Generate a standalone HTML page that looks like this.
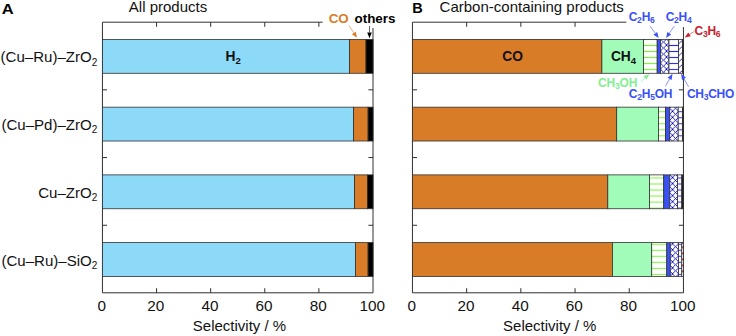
<!DOCTYPE html>
<html><head><meta charset="utf-8"><title>Selectivity</title>
<style>
html,body{margin:0;padding:0;background:#fff;}
body{width:736px;height:336px;overflow:hidden;font-family:"Liberation Sans",sans-serif;}
svg{display:block;font-family:"Liberation Sans",sans-serif;}
.t{font-size:15px;fill:#111;}
.b{font-size:12px;font-weight:bold;}
</style></head><body>
<svg width="736" height="336" viewBox="0 0 736 336">
<defs>
<pattern id="hg" patternUnits="userSpaceOnUse" x="0" y="42.489" width="6.022" height="6.022"><rect width="7" height="7" fill="#fff"/><rect y="2.511" width="7" height="1" fill="#74f62c"/></pattern>
<pattern id="hb" patternUnits="userSpaceOnUse" x="0" y="42.489" width="6.022" height="6.022"><rect width="7" height="7" fill="#fff"/><rect y="2.511" width="7" height="1" fill="#2424e4"/></pattern>
<pattern id="xb" patternUnits="userSpaceOnUse" x="660.5" y="39" width="6.022" height="6.022"><rect width="7" height="7" fill="#fff"/><path d="M-1,-1 L7.022,7.022 M-1,7.022 L7.022,-1" stroke="#0000c4" stroke-width="0.85" fill="none"/></pattern>
<pattern id="db" patternUnits="userSpaceOnUse" x="677.6" y="39" width="6.022" height="6.022"><rect width="7" height="7" fill="#fff"/><path d="M-1,7.022 L7.022,-1 M-1,1 L1,-1 M5.022,7.022 L7.022,5.022" stroke="#0000c4" stroke-width="0.85" fill="none"/></pattern>
<pattern id="rd" patternUnits="userSpaceOnUse" x="0" y="39.478" width="6.022" height="6.022"><rect width="7" height="7" fill="#fff"/><rect y="2.211" width="7" height="1.6" fill="#c8202c"/></pattern>
</defs>

<path d="M102.45,22.2 V292.8 H373.0" fill="none" stroke="#303030" stroke-width="1"/>
<path d="M102.45,22.2 H322.7" fill="none" stroke="#303030" stroke-width="1"/>
<path d="M373.0,28 V292.8" fill="none" stroke="#303030" stroke-width="1"/>
<path d="M156.56,292.8 v-4.6" stroke="#303030" stroke-width="1"/>
<path d="M156.56,22.2 v4.6" stroke="#303030" stroke-width="1"/>
<path d="M210.67,292.8 v-4.6" stroke="#303030" stroke-width="1"/>
<path d="M210.67,22.2 v4.6" stroke="#303030" stroke-width="1"/>
<path d="M264.78,292.8 v-4.6" stroke="#303030" stroke-width="1"/>
<path d="M264.78,22.2 v4.6" stroke="#303030" stroke-width="1"/>
<path d="M318.89,292.8 v-4.6" stroke="#303030" stroke-width="1"/>
<path d="M318.89,22.2 v4.6" stroke="#303030" stroke-width="1"/>
<path d="M102.45,89.82 h4.6 M373.0,89.82 h-4.6" stroke="#303030" stroke-width="1"/>
<path d="M102.45,157.55 h4.6 M373.0,157.55 h-4.6" stroke="#303030" stroke-width="1"/>
<path d="M102.45,225.27 h4.6 M373.0,225.27 h-4.6" stroke="#303030" stroke-width="1"/>
<text class="t" x="101.75" y="311.4" text-anchor="middle" style="font-size:15.3px">0</text>
<text class="t" x="155.86" y="311.4" text-anchor="middle" style="font-size:15.3px">20</text>
<text class="t" x="209.97" y="311.4" text-anchor="middle" style="font-size:15.3px">40</text>
<text class="t" x="264.08" y="311.4" text-anchor="middle" style="font-size:15.3px">60</text>
<text class="t" x="318.19" y="311.4" text-anchor="middle" style="font-size:15.3px">80</text>
<text class="t" x="372.30" y="311.4" text-anchor="middle" style="font-size:15.3px">100</text>
<text class="t" x="239.53" y="331.3" text-anchor="middle">Selectivity / %</text>
<path d="M412.45,22.2 V292.8 H683.45" fill="none" stroke="#303030" stroke-width="1"/>
<path d="M412.45,22.2 H626.3" fill="none" stroke="#303030" stroke-width="1"/>
<path d="M683.45,27 V292.8" fill="none" stroke="#303030" stroke-width="1"/>
<path d="M466.65,292.8 v-4.6" stroke="#303030" stroke-width="1"/>
<path d="M466.65,22.2 v4.6" stroke="#303030" stroke-width="1"/>
<path d="M520.85,292.8 v-4.6" stroke="#303030" stroke-width="1"/>
<path d="M520.85,22.2 v4.6" stroke="#303030" stroke-width="1"/>
<path d="M575.05,292.8 v-4.6" stroke="#303030" stroke-width="1"/>
<path d="M575.05,22.2 v4.6" stroke="#303030" stroke-width="1"/>
<path d="M629.25,292.8 v-4.6" stroke="#303030" stroke-width="1"/>
<path d="M412.45,89.82 h4.6 M683.45,89.82 h-4.6" stroke="#303030" stroke-width="1"/>
<path d="M412.45,157.55 h4.6 M683.45,157.55 h-4.6" stroke="#303030" stroke-width="1"/>
<path d="M412.45,225.27 h4.6 M683.45,225.27 h-4.6" stroke="#303030" stroke-width="1"/>
<text class="t" x="411.75" y="311.4" text-anchor="middle" style="font-size:15.3px">0</text>
<text class="t" x="465.95" y="311.4" text-anchor="middle" style="font-size:15.3px">20</text>
<text class="t" x="520.15" y="311.4" text-anchor="middle" style="font-size:15.3px">40</text>
<text class="t" x="574.35" y="311.4" text-anchor="middle" style="font-size:15.3px">60</text>
<text class="t" x="628.55" y="311.4" text-anchor="middle" style="font-size:15.3px">80</text>
<text class="t" x="682.75" y="311.4" text-anchor="middle" style="font-size:15.3px">100</text>
<text class="t" x="549.75" y="331.3" text-anchor="middle">Selectivity / %</text>
<rect x="102.45" y="39.43" width="247.05" height="33.86" fill="#8dd9f8" stroke="#303030" stroke-width="0.8"/>
<rect x="349.50" y="39.43" width="16.50" height="33.86" fill="#d87c28" stroke="#303030" stroke-width="0.8"/>
<rect x="366.00" y="39.43" width="7.00" height="33.86" fill="#000" stroke="#303030" stroke-width="0.8"/>
<rect x="102.45" y="107.16" width="251.15" height="33.86" fill="#8dd9f8" stroke="#303030" stroke-width="0.8"/>
<rect x="353.60" y="107.16" width="14.50" height="33.86" fill="#d87c28" stroke="#303030" stroke-width="0.8"/>
<rect x="368.10" y="107.16" width="4.90" height="33.86" fill="#000" stroke="#303030" stroke-width="0.8"/>
<rect x="102.45" y="174.88" width="252.15" height="33.86" fill="#8dd9f8" stroke="#303030" stroke-width="0.8"/>
<rect x="354.60" y="174.88" width="12.80" height="33.86" fill="#d87c28" stroke="#303030" stroke-width="0.8"/>
<rect x="367.40" y="174.88" width="5.60" height="33.86" fill="#000" stroke="#303030" stroke-width="0.8"/>
<rect x="102.45" y="242.61" width="252.95" height="33.86" fill="#8dd9f8" stroke="#303030" stroke-width="0.8"/>
<rect x="355.40" y="242.61" width="12.70" height="33.86" fill="#d87c28" stroke="#303030" stroke-width="0.8"/>
<rect x="368.10" y="242.61" width="4.90" height="33.86" fill="#000" stroke="#303030" stroke-width="0.8"/>
<rect x="412.45" y="39.43" width="189.45" height="33.86" fill="#d87c28" stroke="#303030" stroke-width="0.8"/>
<rect x="601.90" y="39.43" width="41.60" height="33.86" fill="#a0fcb8" stroke="#303030" stroke-width="0.8"/>
<rect x="643.50" y="39.43" width="13.70" height="33.86" fill="url(#hg)" stroke="#303030" stroke-width="0.8"/>
<rect x="657.20" y="39.43" width="3.40" height="33.86" fill="#3a50f8" stroke="#303030" stroke-width="0.8"/>
<rect x="660.60" y="39.43" width="8.40" height="33.86" fill="url(#xb)" stroke="#303030" stroke-width="0.8"/>
<rect x="669.00" y="39.43" width="9.50" height="33.86" fill="url(#hb)" stroke="#303030" stroke-width="0.8"/>
<rect x="678.50" y="39.43" width="4.10" height="33.86" fill="url(#db)" stroke="#303030" stroke-width="0.8"/>
<rect x="682.60" y="39.43" width="0.85" height="33.86" fill="#222" stroke="#303030" stroke-width="0.8"/>
<rect x="412.45" y="107.16" width="204.25" height="33.86" fill="#d87c28" stroke="#303030" stroke-width="0.8"/>
<rect x="616.70" y="107.16" width="41.80" height="33.86" fill="#a0fcb8" stroke="#303030" stroke-width="0.8"/>
<rect x="658.50" y="107.16" width="7.00" height="33.86" fill="url(#hg)" stroke="#303030" stroke-width="0.8"/>
<rect x="665.50" y="107.16" width="4.20" height="33.86" fill="#3a50f8" stroke="#303030" stroke-width="0.8"/>
<rect x="669.70" y="107.16" width="8.50" height="33.86" fill="url(#xb)" stroke="#303030" stroke-width="0.8"/>
<rect x="678.20" y="107.16" width="4.20" height="33.86" fill="url(#hb)" stroke="#303030" stroke-width="0.8"/>
<rect x="682.40" y="107.16" width="1.05" height="33.86" fill="#222" stroke="#303030" stroke-width="0.8"/>
<rect x="412.45" y="174.88" width="195.35" height="33.86" fill="#d87c28" stroke="#303030" stroke-width="0.8"/>
<rect x="607.80" y="174.88" width="41.70" height="33.86" fill="#a0fcb8" stroke="#303030" stroke-width="0.8"/>
<rect x="649.50" y="174.88" width="14.25" height="33.86" fill="url(#hg)" stroke="#303030" stroke-width="0.8"/>
<rect x="663.75" y="174.88" width="6.05" height="33.86" fill="#3a50f8" stroke="#303030" stroke-width="0.8"/>
<rect x="669.80" y="174.88" width="7.80" height="33.86" fill="url(#xb)" stroke="#303030" stroke-width="0.8"/>
<rect x="677.60" y="174.88" width="4.20" height="33.86" fill="url(#hb)" stroke="#303030" stroke-width="0.8"/>
<rect x="681.80" y="174.88" width="1.65" height="33.86" fill="#222" stroke="#303030" stroke-width="0.8"/>
<rect x="412.45" y="242.61" width="199.95" height="33.86" fill="#d87c28" stroke="#303030" stroke-width="0.8"/>
<rect x="612.40" y="242.61" width="39.30" height="33.86" fill="#a0fcb8" stroke="#303030" stroke-width="0.8"/>
<rect x="651.70" y="242.61" width="15.10" height="33.86" fill="url(#hg)" stroke="#303030" stroke-width="0.8"/>
<rect x="666.80" y="242.61" width="3.50" height="33.86" fill="#3a50f8" stroke="#303030" stroke-width="0.8"/>
<rect x="670.30" y="242.61" width="8.20" height="33.86" fill="url(#xb)" stroke="#303030" stroke-width="0.8"/>
<rect x="678.50" y="242.61" width="3.30" height="33.86" fill="url(#hb)" stroke="#303030" stroke-width="0.8"/>
<rect x="681.80" y="242.61" width="1.65" height="33.86" fill="url(#rd)" stroke="#303030" stroke-width="0.8"/>
<text class="t" x="97.3" y="62.36" text-anchor="end" style="font-size:15.05px">(Cu–Ru)–ZrO<tspan font-size="10px" dy="3.2">2</tspan></text>
<text class="t" x="97.3" y="130.09" text-anchor="end" style="font-size:15.05px">(Cu–Pd)–ZrO<tspan font-size="10px" dy="3.2">2</tspan></text>
<text class="t" x="97.3" y="197.81" text-anchor="end" style="font-size:15.05px">Cu–ZrO<tspan font-size="10px" dy="3.2">2</tspan></text>
<text class="t" x="97.3" y="265.54" text-anchor="end" style="font-size:15.05px">(Cu–Ru)–SiO<tspan font-size="10px" dy="3.2">2</tspan></text>
<text transform="translate(1.7,13.6) scale(1.08,1)" font-size="15.3px" font-weight="bold" fill="#000">A</text>
<text x="412.3" y="13.1" font-size="14.5px" font-weight="bold" fill="#000">B</text>
<text class="t" x="128.8" y="12">All products</text>
<text class="t" x="439.6" y="12">Carbon-containing products</text>
<text class="b" x="225.6" y="61.0" fill="#111" text-anchor="start" style="font-size:13.8px;letter-spacing:0px">H<tspan font-size="9.6px" dy="2.9">2</tspan></text>
<text class="b" x="502.2" y="61.0" fill="#111" text-anchor="start" style="font-size:13.8px;letter-spacing:0px">CO</text>
<text class="b" x="610.9" y="61.0" fill="#111" text-anchor="start" style="font-size:13.8px;letter-spacing:0px">CH<tspan font-size="9.6px" dy="2.9">4</tspan></text>
<text class="b" x="328.7" y="23.1" fill="#d87c28" text-anchor="start" style="font-size:13.4px;letter-spacing:0px">CO</text>
<text class="b" x="354.5" y="23.1" fill="#000" text-anchor="start" style="font-size:13.4px;letter-spacing:0px">others</text>
<text class="b" x="628.7" y="20.8" fill="#3a50f8" text-anchor="start" style="font-size:12px;letter-spacing:-0.25px">C<tspan font-size="8.6px" dy="2.4">2</tspan><tspan dy="-2.4">H</tspan><tspan font-size="8.6px" dy="2.4">6</tspan></text>
<text class="b" x="665.7" y="20.8" fill="#3a50f8" text-anchor="start" style="font-size:12px;letter-spacing:-0.3px">C<tspan font-size="8.6px" dy="2.4">2</tspan><tspan dy="-2.4">H</tspan><tspan font-size="8.6px" dy="2.4">4</tspan></text>
<text class="b" x="694.6" y="35" fill="#c8202c" text-anchor="start" style="font-size:12px;letter-spacing:-0.3px">C<tspan font-size="8.6px" dy="2.4">3</tspan><tspan dy="-2.4">H</tspan><tspan font-size="8.6px" dy="2.4">6</tspan></text>
<text class="b" x="598.0" y="86.6" fill="#82f092" text-anchor="start" style="font-size:12px;letter-spacing:-0.18px">CH<tspan font-size="8.6px" dy="2.4">3</tspan><tspan dy="-2.4">OH</tspan></text>
<text class="b" x="628.8" y="97.8" fill="#3a50f8" text-anchor="start" style="font-size:12px;letter-spacing:-0.25px">C<tspan font-size="8.6px" dy="2.4">2</tspan><tspan dy="-2.4">H</tspan><tspan font-size="8.6px" dy="2.4">5</tspan><tspan dy="-2.4">OH</tspan></text>
<text class="b" x="687.0" y="97.8" fill="#3a50f8" text-anchor="start" style="font-size:12px;letter-spacing:-0.3px">CH<tspan font-size="8.6px" dy="2.4">3</tspan><tspan dy="-2.4">CHO</tspan></text>
<path d="M349.00,25.60 L353.82,32.95" stroke="#d87c28" stroke-width="0.6" fill="none"/>
<path d="M357.00,37.80 L351.90,34.21 L355.74,31.69 Z" fill="#d87c28"/>
<path d="M369.50,26.00 L369.50,32.40" stroke="#000" stroke-width="0.6" fill="none"/>
<path d="M369.50,38.20 L367.20,32.40 L371.80,32.40 Z" fill="#000"/>
<path d="M650.00,26.00 L655.30,33.30" stroke="#3a50f8" stroke-width="0.6" fill="none"/>
<path d="M658.70,38.00 L653.43,34.65 L657.16,31.95 Z" fill="#3a50f8"/>
<path d="M674.40,26.00 L669.33,33.25" stroke="#3a50f8" stroke-width="0.6" fill="none"/>
<path d="M666.00,38.00 L667.44,31.93 L671.21,34.57 Z" fill="#3a50f8"/>
<path d="M693.90,31.60 L689.56,34.43" stroke="#c8202c" stroke-width="0.6" fill="none"/>
<path d="M684.70,37.60 L688.30,32.51 L690.81,36.36 Z" fill="#c8202c"/>
<path d="M640.60,81.90 L645.03,77.83" stroke="#82f092" stroke-width="0.6" fill="none"/>
<path d="M649.30,73.90 L646.59,79.52 L643.47,76.13 Z" fill="#82f092"/>
<path d="M665.40,86.30 L669.64,78.84" stroke="#3a50f8" stroke-width="0.6" fill="none"/>
<path d="M672.50,73.80 L671.64,79.98 L667.64,77.71 Z" fill="#3a50f8"/>
<path d="M688.60,86.80 L684.00,78.82" stroke="#3a50f8" stroke-width="0.6" fill="none"/>
<path d="M681.10,73.80 L685.99,77.67 L682.01,79.97 Z" fill="#3a50f8"/>
</svg></body></html>
